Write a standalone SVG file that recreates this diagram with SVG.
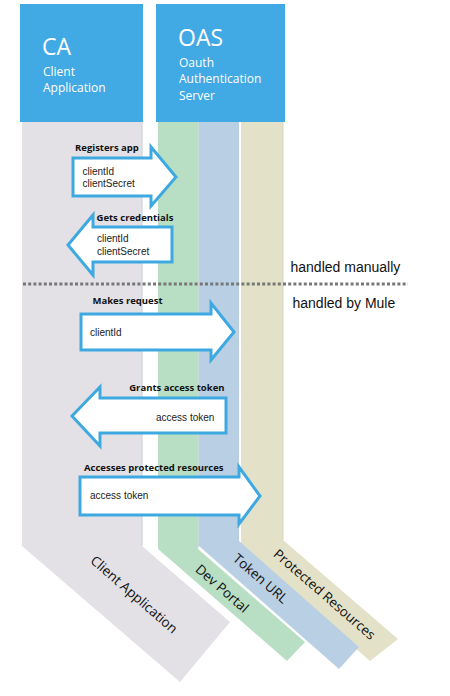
<svg xmlns="http://www.w3.org/2000/svg" width="450" height="696" viewBox="0 0 450 696">
<style>
.hdr{fill:#41a9e3}
.htitle{font-family:"Open Sans",sans-serif;font-size:23px;fill:#fff}
.hsub{font-family:"Open Sans",sans-serif;font-size:12px;fill:#fff}
.arrow{fill:#fff;stroke:#3ea9e1;stroke-width:3;stroke-linejoin:miter}
.lbl{font-family:"Open Sans",sans-serif;font-size:9.5px;font-weight:bold;fill:#111}
.txt{font-family:"Liberation Sans",Arial,sans-serif;font-size:10px;fill:#222}
.note{font-family:"Liberation Sans",Arial,sans-serif;font-size:14px;fill:#111}
.lane{font-family:"Open Sans",sans-serif;font-size:13.5px;fill:#111}
</style>
<g id="lanes">
<g id="lane-client">
<polygon points="22,122 142,122 142,546 230,622 180,682 22,546" fill="#e3e1e6"/>
<line x1="142" y1="122" x2="142" y2="546" stroke="#d0d3df" stroke-width="1.2"/>
<text class="lane" transform="translate(131,598) rotate(41)" text-anchor="middle">Client Application</text>
</g>
<g id="lane-protected">
<polygon points="241,122 283,122 283,540 398,639 370,661 241,549" fill="#e3e2c8"/>
<line x1="283" y1="122" x2="283" y2="540" stroke="#d6d6c4" stroke-width="1"/>
<text class="lane" transform="translate(321.5,598) rotate(41)" text-anchor="middle">Protected Resources</text>
</g>
<g id="lane-token">
<polygon points="199,122 239,122 239,541 359,647 339,669 199,546" fill="#b9cfe4"/>
<text class="lane" transform="translate(257.5,582) rotate(41)" text-anchor="middle">Token URL</text>
</g>
<g id="lane-devportal">
<polygon points="158,122 198,122 198,549 305,642 287,661 158,549" fill="#b8dfc3"/>
<line x1="198.5" y1="122" x2="198.5" y2="547" stroke="#cdd8d8" stroke-width="1"/>
<text class="lane" transform="translate(219,592) rotate(41)" text-anchor="middle">Dev Portal</text>
</g>
</g>
<g id="node-ca">
<rect class="hdr" x="20" y="4" width="123" height="118"/>
<text class="htitle" x="42" y="55">CA</text>
<text class="hsub" x="43" y="75.5">Client</text>
<text class="hsub" x="43" y="92">Application</text>
</g>
<g id="node-oas">
<rect class="hdr" x="156" y="4" width="129" height="118"/>
<text class="htitle" x="178" y="46">OAS</text>
<text class="hsub" x="179" y="66.7">Oauth</text>
<text class="hsub" x="179" y="83.3">Authentication</text>
<text class="hsub" x="179" y="100">Server</text>
</g>
<g id="divider">
<line x1="23" y1="284" x2="408" y2="284" stroke="#777" stroke-width="3" stroke-dasharray="3 2.2"/>
<text class="note" x="290.5" y="271.5">handled manually</text>
<text class="note" x="292.5" y="308">handled by Mule</text>
</g>
<g id="connectors">
<g id="msg-registers">
<polygon class="arrow" points="73,158 151,158 151,147 176,177 151,206 151,196 73,196"/>
<text class="lbl" x="75" y="151">Registers app</text>
<text class="txt" x="82.5" y="175">clientId</text>
<text class="txt" x="82.5" y="187.3">clientSecret</text>
</g>
<g id="msg-gets">
<polygon class="arrow" points="172,227 93,227 93,215 68,245 93,275 93,262 172,262"/>
<text class="lbl" x="96.5" y="220.5">Gets credentials</text>
<text class="txt" x="97" y="242.3">clientId</text>
<text class="txt" x="97" y="255">clientSecret</text>
</g>
<g id="msg-request">
<polygon class="arrow" points="81,314 211,314 211,303 234,332 211,360 211,350 81,350"/>
<text class="lbl" x="92.5" y="303.5">Makes request</text>
<text class="txt" x="90" y="336">clientId</text>
</g>
<g id="msg-grants">
<polygon class="arrow" points="226,398 100,398 100,387 72,416 100,446 100,433 226,433"/>
<text class="lbl" x="224.5" y="390.7" text-anchor="end">Grants access token</text>
<text class="txt" x="156" y="420.5">access token</text>
</g>
<g id="msg-accesses">
<polygon class="arrow" points="80,477 239,477 239,467 260,496 239,524 239,515 80,515"/>
<text class="lbl" x="84" y="470.5">Accesses protected resources</text>
<text class="txt" x="90" y="499">access token</text>
</g>
</g>
</svg>
